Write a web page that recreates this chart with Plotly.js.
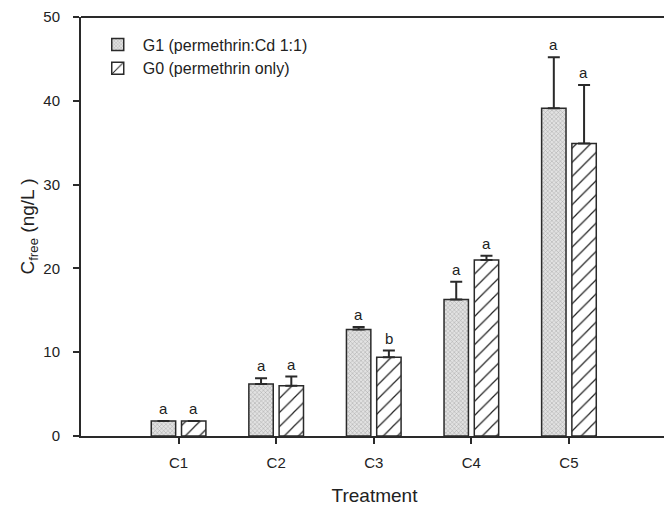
<!DOCTYPE html>
<html><head><meta charset="utf-8">
<script src="https://cdn.plot.ly/plotly-3.0.1.min.js"></script>
<style>html,body{margin:0;background:#fff;overflow:hidden}</style>
</head><body>
<div id="chart" style="width:668px;height:506px"></div>
<script>
const categories = ["C1","C2","C3","C4","C5"];
const g1Values = [1.8, 6.2, 12.7, 16.3, 39.1];
const g1Errors = [0.0, 0.7, 0.3, 2.1, 6.1];
const g0Values = [1.8, 6.0, 9.4, 21.0, 34.9];
const g0Errors = [0.0, 1.1, 0.8, 0.5, 7.0];
const g1Letters = ["a","a","a","a","a"];
const g0Letters = ["a","a","b","a","a"];
const g1Name = "G1 (permethrin:Cd 1:1)";
const g0Name = "G0 (permethrin only)";

const lineCol = "#2a2a2a";
const traces = [
  {type:"bar", name:g1Name, x:categories, y:g1Values, width:0.25, offset:-0.28,
   marker:{color:"#d4d4d4", line:{color:lineCol,width:1.5},
     pattern:{shape:"x", size:3, solidity:0.25, fgcolor:"#9a9a9a", bgcolor:"#e2e2e2", fillmode:"replace"}},
   error_y:{type:"data", array:g1Errors, symmetric:false, arrayminus:g1Errors.map(()=>0),
     color:lineCol, thickness:2, width:6}},
  {type:"bar", name:g0Name, x:categories, y:g0Values, width:0.25, offset:0.03,
   marker:{color:"#ffffff", line:{color:lineCol,width:1.5},
     pattern:{shape:"/", size:10, solidity:0.12, fgcolor:"#222", bgcolor:"#ffffff", fillmode:"replace"}},
   error_y:{type:"data", array:g0Errors, symmetric:false, arrayminus:g0Errors.map(()=>0),
     color:lineCol, thickness:2, width:6}}
];

const annotations = [];
categories.forEach((c,i)=>{
  annotations.push({x:c, y:g1Values[i]+g1Errors[i], text:g1Letters[i], showarrow:false,
    xshift:-15, yanchor:"bottom", yshift:2, font:{size:15,color:"#222"}});
  annotations.push({x:c, y:g0Values[i]+g0Errors[i], text:g0Letters[i], showarrow:false,
    xshift:15, yanchor:"bottom", yshift:2, font:{size:15,color:"#222"}});
});

const layout = {
  width:668, height:506,
  margin:{l:81, r:0, t:17, b:70},
  paper_bgcolor:"#fff", plot_bgcolor:"#fff",
  font:{family:"Liberation Sans, Arial, sans-serif", size:14, color:"#222"},
  barmode:"overlay",
  showlegend:true,
  legend:{x:0.02, y:0.975, xanchor:"left", yanchor:"top", bgcolor:"rgba(0,0,0,0)",
    font:{size:16}, tracegroupgap:0, itemwidth:40},
  xaxis:{type:"category", range:[-1,5.015], showgrid:false, zeroline:false,
    showline:true, linecolor:lineCol, linewidth:2,
    ticks:"outside", ticklen:6, tickwidth:2, tickcolor:lineCol, ticklabelstandoff:6,
    tickfont:{size:15},
    title:{text:"Treatment", font:{size:19}, standoff:22}},
  yaxis:{range:[0,50], dtick:10, showgrid:false, zeroline:false,
    showline:true, linecolor:lineCol, linewidth:2,
    ticks:"outside", ticklen:6, tickwidth:2, tickcolor:lineCol, ticklabelstandoff:10,
    tickfont:{size:15},
    title:{text:"C<sub>free</sub> (ng/L )", font:{size:19}, standoff:4}},
  shapes:[{type:"line", xref:"paper", yref:"paper", x0:0, x1:1, y0:1, y1:1,
    line:{color:lineCol, width:2}}],
  annotations:annotations
};
Plotly.newPlot("chart", traces, layout, {displayModeBar:false, staticPlot:true});
</script>
</body></html>
